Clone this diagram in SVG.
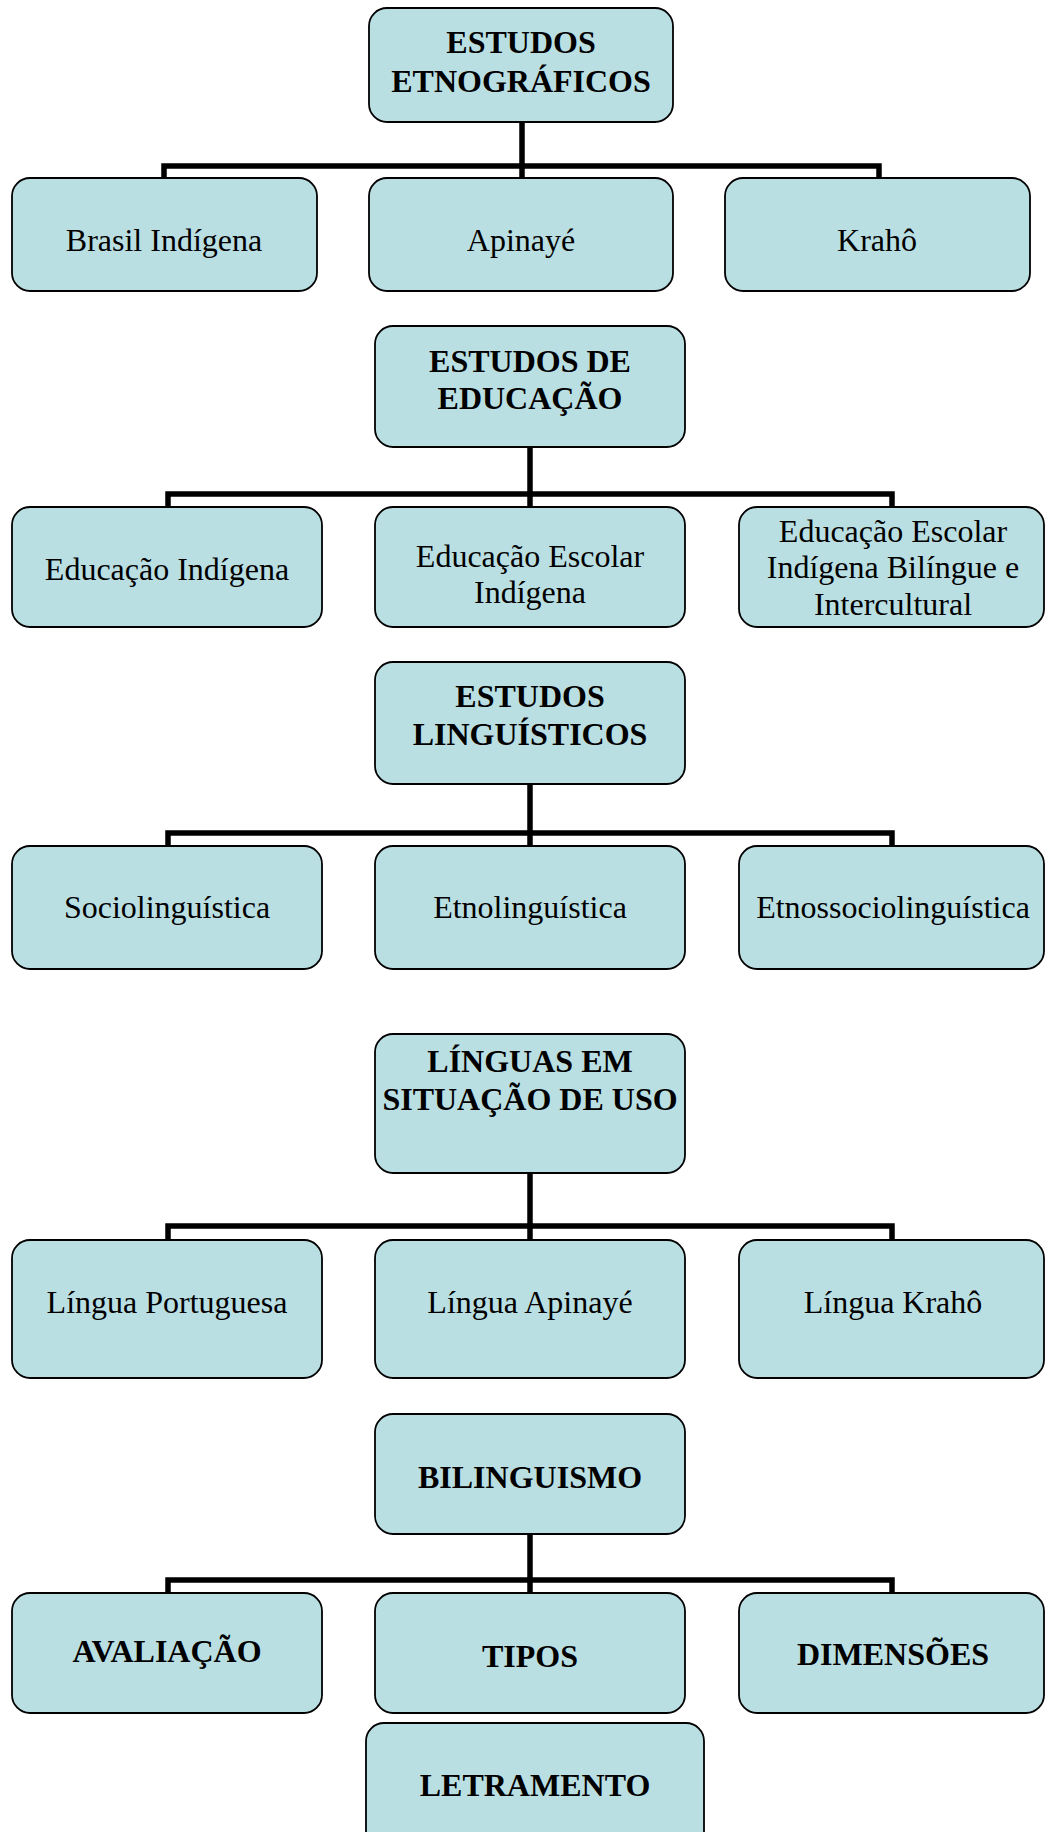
<svg xmlns="http://www.w3.org/2000/svg" width="1046" height="1832" viewBox="0 0 1046 1832">
<style>
.box{fill:#BADFE3;stroke:#000;stroke-width:1.8}
.t{font-family:"Liberation Serif","Times New Roman",serif;font-size:32px;fill:#000;text-anchor:middle}
.b{font-weight:bold}
.c{fill:none;stroke:#000;stroke-width:5.5;stroke-linecap:butt;stroke-linejoin:miter}
</style>
<rect width="1046" height="1832" fill="#fff"/>
<g id="connectors">
<path class="c" d="M522 122V166M164 178V166H879V178M522 166V178"/>
<path class="c" d="M530 447V494M168 507V494H892V507M530 494V507"/>
<path class="c" d="M530 784V833M168 846V833H892V846M530 833V846"/>
<path class="c" d="M530 1173V1226M168 1240V1226H892V1240M530 1226V1240"/>
<path class="c" d="M530 1534V1580M168 1593V1580H892V1593M530 1580V1593"/>
</g>
<g id="n1"><rect class="box" x="369" y="8" width="304" height="114" rx="18"/><text class="t b" x="521" y="53">ESTUDOS</text><text class="t b" x="521" y="92">ETNOGRÁFICOS</text></g>
<g id="n1a"><rect class="box" x="12" y="178" width="305" height="113" rx="18"/><text class="t" x="164" y="251">Brasil Indígena</text></g>
<g id="n1b"><rect class="box" x="369" y="178" width="304" height="113" rx="18"/><text class="t" x="521" y="251">Apinayé</text></g>
<g id="n1c"><rect class="box" x="725" y="178" width="305" height="113" rx="18"/><text class="t" x="877" y="251">Krahô</text></g>

<g id="n2"><rect class="box" x="375" y="326" width="310" height="121" rx="18"/><text class="t b" x="530" y="372">ESTUDOS DE</text><text class="t b" x="530" y="409">EDUCAÇÃO</text></g>
<g id="n2a"><rect class="box" x="12" y="507" width="310" height="120" rx="18"/><text class="t" x="167" y="580">Educação Indígena</text></g>
<g id="n2b"><rect class="box" x="375" y="507" width="310" height="120" rx="18"/><text class="t" x="530" y="567">Educação Escolar</text><text class="t" x="530" y="603">Indígena</text></g>
<g id="n2c"><rect class="box" x="739" y="507" width="305" height="120" rx="18"/><text class="t" x="893" y="542">Educação Escolar</text><text class="t" x="893" y="578">Indígena Bilíngue e</text><text class="t" x="893" y="615">Intercultural</text></g>

<g id="n3"><rect class="box" x="375" y="662" width="310" height="122" rx="18"/><text class="t b" x="530" y="707">ESTUDOS</text><text class="t b" x="530" y="745">LINGUÍSTICOS</text></g>
<g id="n3a"><rect class="box" x="12" y="846" width="310" height="123" rx="18"/><text class="t" x="167" y="918">Sociolinguística</text></g>
<g id="n3b"><rect class="box" x="375" y="846" width="310" height="123" rx="18"/><text class="t" x="530" y="918">Etnolinguística</text></g>
<g id="n3c"><rect class="box" x="739" y="846" width="305" height="123" rx="18"/><text class="t" x="893" y="918">Etnossociolinguística</text></g>

<g id="n4"><rect class="box" x="375" y="1034" width="310" height="139" rx="18"/><text class="t b" x="530" y="1072">LÍNGUAS EM</text><text class="t b" x="530" y="1110">SITUAÇÃO DE USO</text></g>
<g id="n4a"><rect class="box" x="12" y="1240" width="310" height="138" rx="18"/><text class="t" x="167" y="1313">Língua Portuguesa</text></g>
<g id="n4b"><rect class="box" x="375" y="1240" width="310" height="138" rx="18"/><text class="t" x="530" y="1313">Língua Apinayé</text></g>
<g id="n4c"><rect class="box" x="739" y="1240" width="305" height="138" rx="18"/><text class="t" x="893" y="1313">Língua Krahô</text></g>

<g id="n5"><rect class="box" x="375" y="1414" width="310" height="120" rx="18"/><text class="t b" x="530" y="1488">BILINGUISMO</text></g>
<g id="n5a"><rect class="box" x="12" y="1593" width="310" height="120" rx="18"/><text class="t b" x="167" y="1662">AVALIAÇÃO</text></g>
<g id="n5b"><rect class="box" x="375" y="1593" width="310" height="120" rx="18"/><text class="t b" x="530" y="1667">TIPOS</text></g>
<g id="n5c"><rect class="box" x="739" y="1593" width="305" height="120" rx="18"/><text class="t b" x="893" y="1665">DIMENSÕES</text></g>
<g id="n6"><rect class="box" x="366" y="1723" width="338" height="130" rx="18"/><text class="t b" x="535" y="1796">LETRAMENTO</text></g>
</svg>
